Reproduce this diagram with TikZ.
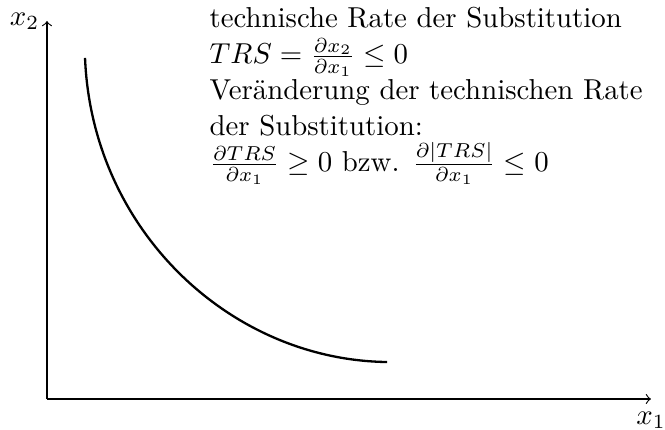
\documentclass[tikz,border=0pt]{standalone}
\usetikzlibrary{positioning}

\begin{document}
\begin{tikzpicture}

% === Frame ===
\def\picW{8.110}
\def\picH{5.244}
\useasboundingbox (0,0) rectangle (\picW,\picH);

% === Axes ===
\coordinate (origin) at (0.573,0.378);
\coordinate (xend) at (7.939,0.378);
\coordinate (yend) at (0.573,4.988);

\draw[->] (origin) -- (xend);
\draw[->] (origin) -- (yend);

\node[inner sep=0pt,below=4.3pt of xend] (xlabel) {$x_1$};
\node[inner sep=0pt,left=2.5pt of yend] (ylabel) {$x_2$};

% === Isoquant ===
\coordinate (isoA) at (1.037,4.537);
\coordinate (isoB) at (4.720,0.829);
\draw[thick] (isoA) .. controls (1.122,2.439) and (2.805,0.854) .. (isoB);

% === Description ===
\node[inner sep=0pt,anchor=north west,align=left] (trs) at (2.549,5.159)
  {technische Rate der Substitution\\[0.5pt]
   $TRS=\frac{\partial x_2}{\partial x_1}\leq 0$\\[0.5pt]
   Veränderung der technischen Rate\\[0.5pt]
   der Substitution:\\[0.5pt]
   $\frac{\partial TRS}{\partial x_1}\geq 0$ bzw. $\frac{\partial |TRS|}{\partial x_1}\leq 0$};

\end{tikzpicture}
\end{document}
